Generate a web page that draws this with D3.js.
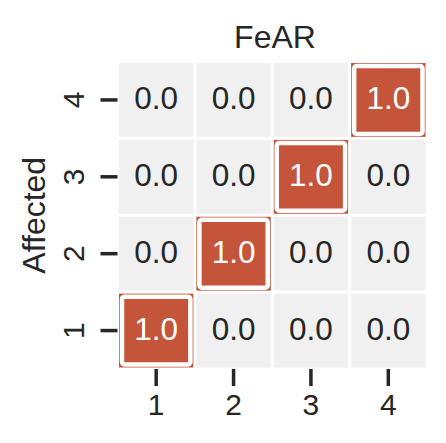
<!DOCTYPE html>
<html>
<head>
<meta charset="utf-8">
<script src="https://cdn.jsdelivr.net/npm/d3@7"></script>
<style>
  html, body { margin: 0; padding: 0; background: #fff; }
  text { font-family: "Liberation Sans", Arial, sans-serif; }
</style>
</head>
<body>
<svg id="chart" width="446" height="443"></svg>
<script>
const title = "FeAR";
const yTitle = "Affected";
const xCategories = ["1", "2", "3", "4"];
const yCategories = ["1", "2", "3", "4"];
// values[row] where row index follows yCategories (Affected), column follows xCategories
const row1 = [1.0, 0.0, 0.0, 0.0];
const row2 = [0.0, 1.0, 0.0, 0.0];
const row3 = [0.0, 0.0, 1.0, 0.0];
const row4 = [0.0, 0.0, 0.0, 1.0];
const values = [row1, row2, row3, row4];

(function () {
const svg = d3.select("#chart");
const gLeft = 117.5, gRight = 427, gTop = 61.5, gBottom = 369;

const x = d3.scaleBand().domain(xCategories).range([gLeft, gRight]);
const y = d3.scaleBand().domain(yCategories).range([gBottom, gTop]);
const color = d3.scaleThreshold().domain([0.5]).range(["#f0f0f0", "#c4553b"]);

const cells = [];
yCategories.forEach((r, i) => xCategories.forEach((c, j) => cells.push({r, c, v: values[i][j]})));

const gap = 1.5;
const g = svg.append("g");
g.selectAll("rect.cell").data(cells).join("rect")
  .attr("class", "cell")
  .attr("x", d => x(d.c) + gap)
  .attr("y", d => y(d.r) + gap)
  .attr("width", x.bandwidth() - 2 * gap)
  .attr("height", y.bandwidth() - 2 * gap)
  .attr("fill", d => color(d.v));

// highlight outline on high cells
const hi = cells.filter(d => d.v >= 0.5);
const inset = 4.5;
g.selectAll("rect.hl").data(hi).join("rect")
  .attr("class", "hl")
  .attr("x", d => x(d.c) + inset)
  .attr("y", d => y(d.r) + inset)
  .attr("width", x.bandwidth() - 2 * inset)
  .attr("height", y.bandwidth() - 2 * inset)
  .attr("rx", 2.5)
  .attr("fill", "none")
  .attr("stroke", "#ffffff")
  .attr("stroke-width", 4.5);

g.selectAll("text.ann").data(cells).join("text")
  .attr("class", "ann")
  .attr("x", d => x(d.c) + x.bandwidth() / 2)
  .attr("y", d => y(d.r) + y.bandwidth() / 2 + 9)
  .attr("text-anchor", "middle")
  .attr("font-size", 31.5)
  .attr("fill", d => d.v >= 0.5 ? "#ffffff" : "#262626")
  .text(d => d3.format(".1f")(d.v));

// x axis
const xAxis = svg.append("g").attr("transform", `translate(0,${gBottom})`)
  .call(d3.axisBottom(x).tickSize(17).tickPadding(8));
xAxis.select(".domain").remove();
xAxis.selectAll(".tick line").attr("stroke", "#262626").attr("stroke-width", 3.5);
xAxis.selectAll(".tick text").attr("font-size", 30).attr("fill", "#262626")
  .attr("font-family", "Liberation Sans, Arial, sans-serif");

// y axis
const yAxis = svg.append("g").attr("transform", `translate(${gLeft},0)`)
  .call(d3.axisLeft(y).tickSize(17).tickPadding(0));
yAxis.select(".domain").remove();
yAxis.selectAll(".tick line").attr("stroke", "#262626").attr("stroke-width", 3.5);
yAxis.selectAll(".tick text").attr("font-size", 30).attr("fill", "#262626")
  .attr("font-family", "Liberation Sans, Arial, sans-serif")
  .attr("x", null).attr("dy", null)
  .attr("text-anchor", "middle")
  .attr("transform", `translate(-34,0) rotate(-90)`);

// title
svg.append("text")
  .attr("x", 275).attr("y", 48)
  .attr("text-anchor", "middle")
  .attr("font-size", 32)
  .attr("fill", "#262626")
  .text(title);

// y title
svg.append("text")
  .attr("transform", `translate(45,${(gTop + gBottom) / 2}) rotate(-90)`)
  .attr("text-anchor", "middle")
  .attr("font-size", 32)
  .attr("fill", "#262626")
  .text(yTitle);
})();
</script>
</body>
</html>
